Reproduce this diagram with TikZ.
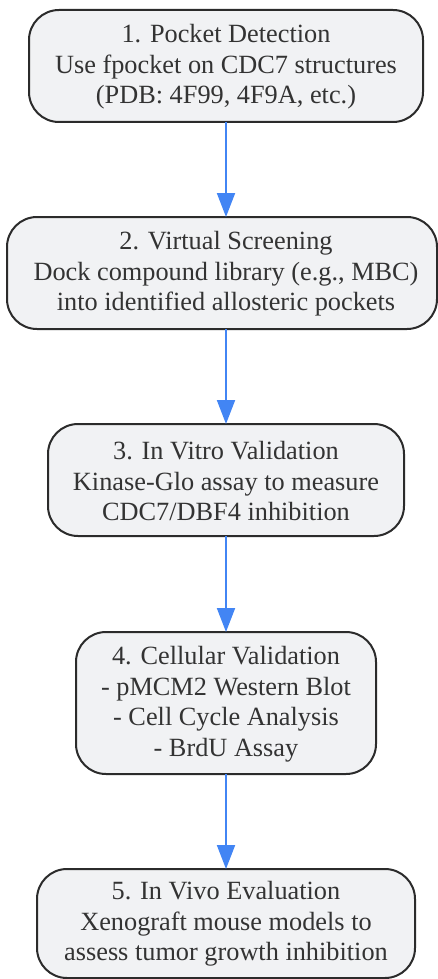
\documentclass[tikz,border=0pt]{standalone}
\usepackage{fontspec}
\setmainfont{Liberation Serif}
\usetikzlibrary{arrows.meta}
\definecolor{boxfill}{HTML}{F1F2F4}
\definecolor{boxdraw}{HTML}{2B2B2B}
\definecolor{txt}{HTML}{333333}
\definecolor{arr}{HTML}{4285F4}
\tikzset{
  stepbox/.style={draw=boxdraw, fill=boxfill, line width=2pt, rounded corners=30pt},
  lbl/.style={align=center, text=txt, font=\fontsize{26.3pt}{30.5pt}\selectfont, inner sep=0pt},
  flow/.style={draw=arr, line width=2pt, -{Triangle[length=24pt,width=18pt]}}
}
\begin{document}
\begin{tikzpicture}[x=1pt,y=-1pt]
\useasboundingbox (0,0) rectangle (438,979);
% boxes
\draw[stepbox] (29,10) rectangle (423,122);
\draw[stepbox] (7,217) rectangle (437,329);
\draw[stepbox] (48,424) rectangle (404,536);
\draw[stepbox] (76,632) rectangle (376,774);
\draw[stepbox] (37,869) rectangle (415,978);
% invisible anchors
\coordinate (b1) at (226,122);
\coordinate (t2) at (226,217);
\coordinate (b2) at (226,329);
\coordinate (t3) at (226,424);
\coordinate (b3) at (226,536);
\coordinate (t4) at (226,632);
\coordinate (b4) at (226,774);
\coordinate (t5) at (226,869);
% labels
\node[lbl] (n1) at (226,67) {1. Pocket Detection\\Use fpocket on CDC7 structures\\(PDB: 4F99, 4F9A, etc.)};
\node[lbl] (n2) at (226,274) {2. Virtual Screening\\Dock compound library (e.g., MBC)\\into identified allosteric pockets};
\node[lbl] (n3) at (226,481) {3. In Vitro Validation\\Kinase-Glo assay to measure\\CDC7/DBF4 inhibition};
\node[lbl] (n4) at (226,704) {4. Cellular Validation\\- pMCM2 Western Blot\\- Cell Cycle Analysis\\- BrdU Assay};
\node[lbl] (n5) at (226,924) {5. In Vivo Evaluation\\Xenograft mouse models to\\assess tumor growth inhibition};
% connectors
\draw[flow] (b1) -- (t2);
\draw[flow] (b2) -- (t3);
\draw[flow] (b3) -- (t4);
\draw[flow] (b4) -- (t5);
\end{tikzpicture}
\end{document}
